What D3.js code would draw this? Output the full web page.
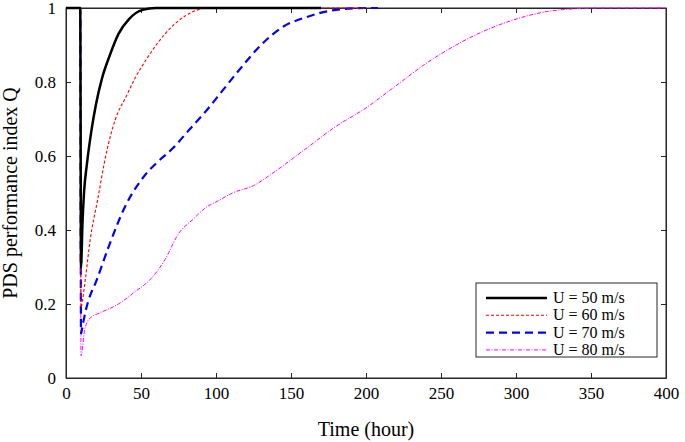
<!DOCTYPE html>
<html><head><meta charset="utf-8">
<script src="https://cdn.jsdelivr.net/npm/d3@7"></script>
<style>body{margin:0;background:#fff}text{font-family:"Liberation Serif","Times New Roman",serif}</style>
</head><body><svg id="c" width="685" height="442"></svg>
<script>
// data
const tU50 = [0, 9.5, 10, 11, 12, 14, 17, 20, 24, 29, 35, 42, 51, 60, 170];
const qU50 = [1, 1, 0.30, 0.42, 0.50, 0.58, 0.67, 0.74, 0.81, 0.87, 0.93, 0.97, 0.995, 1, 1];
const tU60 = [0, 9.5, 10, 11, 13, 16, 21, 27, 33, 40, 46, 55, 66, 80, 95, 200];
const qU60 = [1, 1, 0.19, 0.21, 0.27, 0.37, 0.48, 0.61, 0.70, 0.76, 0.81, 0.87, 0.93, 0.98, 1, 1];
const tU70 = [0, 9.5, 10, 11, 13, 15, 20, 28, 39, 53, 60, 71, 82, 93, 105, 117, 130, 145, 160, 180, 200, 208];
const qU70 = [1, 1, 0.12, 0.14, 0.18, 0.21, 0.26, 0.35, 0.46, 0.55, 0.58, 0.62, 0.67, 0.72, 0.78, 0.84, 0.90, 0.95, 0.975, 0.995, 1, 1];
const tU80 = [0, 9.5, 10, 11, 12, 14, 17, 22, 35, 45, 57, 66, 75, 85, 93, 102, 111, 125, 140, 160, 180, 200, 220, 240, 260, 280, 300, 320, 340, 355, 400];
const qU80 = [1, 1, 0.06, 0.08, 0.12, 0.15, 0.165, 0.175, 0.20, 0.23, 0.27, 0.32, 0.39, 0.43, 0.46, 0.48, 0.50, 0.52, 0.56, 0.62, 0.68, 0.73, 0.79, 0.85, 0.90, 0.94, 0.97, 0.99, 0.998, 1, 1];
const xTicks = [0, 50, 100, 150, 200, 250, 300, 350, 400];
const yTicks = [0, 0.2, 0.4, 0.6, 0.8, 1];

const series = [
  {name: "U = 50 m/s", t: tU50, q: qU50, color: "#000", width: 2.5, dash: null},
  {name: "U = 60 m/s", t: tU60, q: qU60, color: "#ff0000", width: 1.1, dash: "3,2"},
  {name: "U = 70 m/s", t: tU70, q: qU70, color: "#0000ff", width: 2.2, dash: "8,5"},
  {name: "U = 80 m/s", t: tU80, q: qU80, color: "#ff00ff", width: 1, dash: "4,1.5,1,1.5"}
];

const L = 66, R = 666, T = 8, B = 378;
const svg = d3.select("#c");
const x = d3.scaleLinear().domain([0, 400]).range([L, R]);
const y = d3.scaleLinear().domain([0, 1]).range([B, T]);

svg.append("rect").attr("x", L).attr("y", T).attr("width", R - L).attr("height", B - T)
  .attr("fill", "none").attr("stroke", "#262626").attr("stroke-width", 1);

svg.append("g").attr("transform", `translate(0,${B})`)
  .call(d3.axisBottom(x).tickValues(xTicks).tickSizeInner(-5).tickSizeOuter(0).tickPadding(9));
svg.append("g").attr("transform", `translate(${L},0)`)
  .call(d3.axisLeft(y).tickValues(yTicks).tickFormat(d3.format("")).tickSizeInner(-5).tickSizeOuter(0).tickPadding(10));
// matching top/right ticks
svg.append("g").attr("transform", `translate(0,${T})`)
  .call(d3.axisTop(x).tickValues(xTicks).tickSizeInner(-5).tickSizeOuter(0).tickFormat(""));
svg.append("g").attr("transform", `translate(${R},0)`)
  .call(d3.axisRight(y).tickValues(yTicks).tickSizeInner(-5).tickSizeOuter(0).tickFormat(""));
svg.selectAll(".domain").attr("stroke", "#262626");
svg.selectAll(".tick line").attr("stroke", "#262626");
svg.selectAll("g").attr("font-family", null).attr("font-size", null);
svg.selectAll(".tick text").style("font-size", "17px").attr("fill", "#000")
  .style("font-family", "Liberation Serif");

svg.append("text").attr("x", (L + R) / 2).attr("y", 436).attr("text-anchor", "middle")
  .style("font-size", "20px").text("Time (hour)");
svg.append("text").attr("transform", `translate(17,${(T + B) / 2}) rotate(-90)`)
  .attr("text-anchor", "middle").style("font-size", "20px").text("PDS performance index Q");

const line = d3.line().x(d => x(d[0])).y(d => y(d[1])).curve(d3.curveMonotoneX);
svg.append("clipPath").attr("id", "pc").append("rect")
  .attr("x", L).attr("y", T - 2).attr("width", R - L).attr("height", B - T + 2);
series.slice().reverse().forEach(s => {
  svg.append("path").attr("clip-path", "url(#pc)")
    .datum(s.t.map((t, i) => [t, s.q[i]]))
    .attr("d", line).attr("fill", "none").attr("stroke", s.color)
    .attr("stroke-width", s.width).attr("stroke-dasharray", s.dash);
});

const lg = svg.append("g").attr("transform", "translate(476,283)");
lg.append("rect").attr("width", 181).attr("height", 74).attr("fill", "#fff").attr("stroke", "#262626");
series.forEach((s, i) => {
  const yy = 15 + i * 17.3;
  lg.append("line").attr("x1", 10).attr("x2", 71).attr("y1", yy).attr("y2", yy)
    .attr("stroke", s.color).attr("stroke-width", s.width).attr("stroke-dasharray", s.dash);
  lg.append("text").attr("x", 77).attr("y", yy + 5).style("font-size", "16px").text(s.name);
});
</script></body></html>
